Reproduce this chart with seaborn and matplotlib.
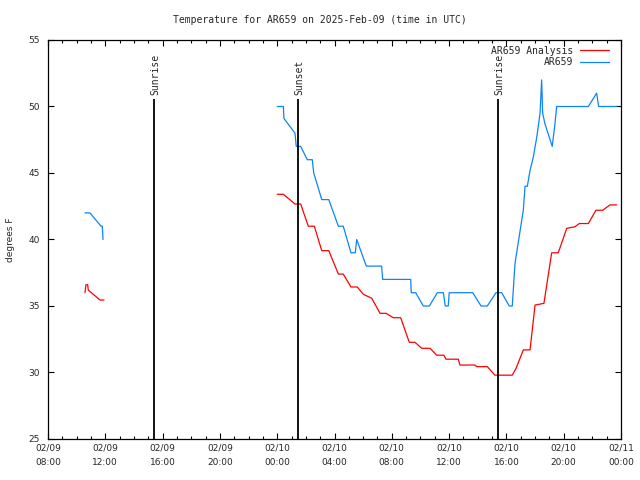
import matplotlib
matplotlib.use('Agg')
import matplotlib.pyplot as plt
import numpy as np
import pandas as pd
import seaborn as sns

# hours since 2025-02-09 00:00 UTC
obs_hours = [
    [10.58, 10.93, 11.70, 11.79, 11.84],
    [24.01, 24.43, 24.47, 25.24, 25.33, 25.64, 26.10, 26.45, 26.55, 27.11, 27.60,
     28.27, 28.61, 29.15, 29.45, 29.55, 30.22, 31.29, 31.36, 33.32, 33.36, 33.67,
     34.20, 34.62, 35.18, 35.60, 35.73, 35.94, 36.01, 37.65, 38.23, 38.67, 39.27,
     39.67, 40.20, 40.41, 40.60, 41.18, 41.30, 41.46, 41.65, 41.88, 42.12, 42.35,
     42.46, 42.53, 42.69, 43.20, 43.39, 43.51, 45.72, 46.30, 46.44, 47.70],
]
obs_temp = [
    [42.0, 42.0, 41.0, 41.0, 40.0],
    [50.0, 50.0, 49.1, 48.0, 47.0, 47.0, 46.0, 46.0, 45.0, 43.0, 43.0,
     41.0, 41.0, 39.0, 39.0, 40.0, 38.0, 38.0, 37.0, 37.0, 36.0, 36.0,
     35.0, 35.0, 36.0, 36.0, 35.0, 35.0, 36.0, 36.0, 35.0, 35.0, 36.0,
     36.0, 35.0, 35.0, 38.2, 42.2, 44.0, 44.0, 45.2, 46.2, 47.7, 49.5,
     52.0, 49.5, 48.7, 47.0, 48.7, 50.0, 50.0, 51.0, 50.0, 50.0],
]
ana_hours = [
    [10.58, 10.65, 10.77, 10.81, 11.63, 11.91],
    [24.01, 24.43, 25.24, 25.64, 26.17, 26.59, 27.11, 27.60, 28.27, 28.61, 29.15,
     29.59, 30.01, 30.60, 31.18, 31.60, 32.10, 32.62, 33.22, 33.62, 34.09, 34.67,
     35.13, 35.64, 35.78, 36.64, 36.76, 37.81, 37.93, 38.67, 39.20, 40.41, 40.67,
     41.18, 41.65, 42.00, 42.62, 43.16, 43.62, 44.21, 44.79, 45.09, 45.72, 46.25,
     46.72, 47.23, 47.70],
]
ana_temp = [
    [36.0, 36.6, 36.6, 36.2, 35.45, 35.45],
    [43.4, 43.4, 42.67, 42.67, 41.0, 41.0, 39.16, 39.16, 37.4, 37.4, 36.43,
     36.43, 35.88, 35.58, 34.45, 34.45, 34.12, 34.12, 32.27, 32.27, 31.82, 31.82,
     31.3, 31.3, 31.0, 31.0, 30.56, 30.56, 30.44, 30.44, 29.8, 29.8, 30.3,
     31.7, 31.7, 35.07, 35.2, 39.0, 39.0, 40.84, 40.96, 41.2, 41.2, 42.2,
     42.2, 42.6, 42.6],
]

sun_hours = [15.40, 25.45, 39.41]
sun_labels = ["Sunrise", "Sunset", "Sunrise"]

xtick_hours = [8, 12, 16, 20, 24, 28, 32, 36, 40, 44, 48]
xtick_labels = ["02/09\n08:00", "02/09\n12:00", "02/09\n16:00", "02/09\n20:00",
                "02/10\n00:00", "02/10\n04:00", "02/10\n08:00", "02/10\n12:00",
                "02/10\n16:00", "02/10\n20:00", "02/11\n00:00"]
yticks = [25, 30, 35, 40, 45, 50, 55]

rows = []
for name, hrs, tmp in [("AR659 Analysis", ana_hours, ana_temp), ("AR659", obs_hours, obs_temp)]:
    for seg, (hh, tt) in enumerate(zip(hrs, tmp)):
        for h, t in zip(hh, tt):
            rows.append({"series": name, "segment": seg, "hour": h, "temp": t})
df = pd.DataFrame(rows)

sns.set_style("white")
mono = "DejaVu Sans Mono"

fig = plt.figure(figsize=(6.4, 4.8), dpi=100)
fig.patch.set_facecolor("#fff")
ax = fig.add_axes([48 / 640, 41 / 480, 573 / 640, 399 / 480])

sns.lineplot(data=df, x="hour", y="temp", hue="series", units="segment", estimator=None,
             palette={"AR659 Analysis": "#ff0000", "AR659": "#0a84ff"},
             linewidth=0.9, ax=ax)

for h, lab in zip(sun_hours, sun_labels):
    ax.vlines(h, 25, 50.55, color="black", linewidth=1.3)
    ax.text(h + 0.1, 50.85, lab, rotation=90, ha="center", va="bottom",
            fontsize=7, family=mono)

ax.set_xlim(8, 48)
ax.set_ylim(25, 55)
ax.set_xticks(xtick_hours)
ax.set_xticklabels(xtick_labels, fontsize=6.5, linespacing=1.9)
ax.set_xticks(np.arange(8, 49, 1), minor=True)
ax.set_yticks(yticks)
ax.set_yticklabels([str(v) for v in yticks], fontsize=6.5)
ax.tick_params(axis="both", which="major", direction="in", length=4.5, width=0.8,
               bottom=True, left=True, top=True, right=True, color="black")
ax.tick_params(axis="x", which="minor", direction="in", length=2.2, width=0.8,
               top=True, bottom=True, color="black")
ax.tick_params(axis="x", which="major", pad=3)
ax.tick_params(axis="y", which="major", pad=6)
ax.set_xlabel("")
ax.set_ylabel("")
for s in ax.spines.values():
    s.set_color("black")
    s.set_linewidth(0.9)

leg = ax.legend(loc="upper right", bbox_to_anchor=(0.985, 0.995), frameon=False,
                markerfirst=False, handlelength=2.9, handletextpad=0.7,
                labelspacing=0.15, borderaxespad=0, prop={"family": mono, "size": 7})
for line in leg.get_lines():
    line.set_linewidth(0.9)

fig.text(0.5, 1 - 20 / 480, "Temperature for AR659 on 2025-Feb-09 (time in UTC)",
         ha="center", va="center", fontsize=7, family=mono)
fig.text(11 / 640, 0.5, "degrees F", rotation=90, ha="center", va="center", fontsize=6.5)

fig.savefig("out.png", dpi=100, facecolor="#fff")
